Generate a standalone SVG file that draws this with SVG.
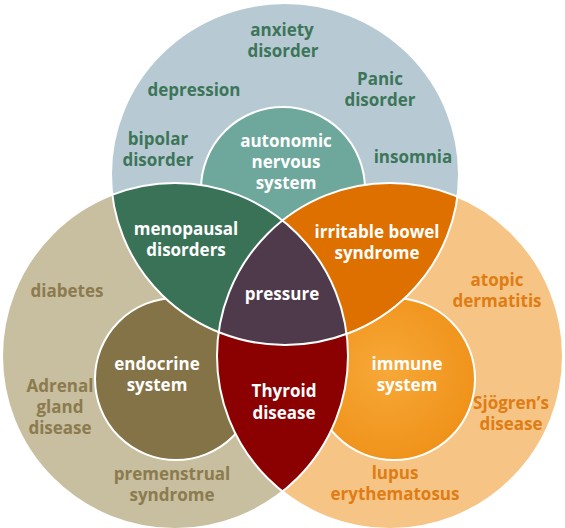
<svg xmlns="http://www.w3.org/2000/svg" width="565" height="528" viewBox="0 0 565 528">
<style>
text{font-family:"Open Sans","Noto Sans","Liberation Sans",sans-serif;font-weight:700;font-size:17px;text-anchor:middle}
.tg{fill:#3d7559}.tl{fill:#8b7b4e}.tr{fill:#e07c14}.tw{fill:#ffffff}
.edge{fill:none;stroke:#ffffff;stroke-width:2}
</style>
<defs>
<clipPath id="cT"><ellipse cx="285" cy="174" rx="174" ry="171"/></clipPath>
<clipPath id="cL"><circle cx="175" cy="356" r="173"/></clipPath>
<clipPath id="cR"><circle cx="390" cy="356" r="173"/></clipPath>
<radialGradient id="gI" cx="0.45" cy="0.45" r="0.6"><stop offset="0" stop-color="#f7a838"/><stop offset="1" stop-color="#ef9118"/></radialGradient>
</defs>
<g id="circle-mind">
<ellipse cx="285" cy="174" rx="174" ry="171" fill="#b7cad3"/>
</g>
<g id="circle-endocrine-outer">
<circle cx="175" cy="356" r="173" fill="#c8bea0"/>
</g>
<g id="circle-immune-outer">
<circle cx="390" cy="356" r="173" fill="#f6c585"/>
</g>
<g id="autonomic">
<circle cx="283" cy="189" r="82" fill="#6ea89c" stroke="#fff" stroke-width="2"/>
</g>
<g id="endocrine">
<circle cx="176" cy="379" r="81" fill="#837346" stroke="#fff" stroke-width="2"/>
</g>
<g id="immune">
<circle cx="394" cy="379" r="81" fill="url(#gI)" stroke="#fff" stroke-width="2"/>
</g>
<g id="menopausal">
<circle cx="175" cy="356" r="173" fill="#3a7258" clip-path="url(#cT)"/>
</g>
<g id="irritable">
<circle cx="390" cy="356" r="173" fill="#de7000" clip-path="url(#cT)"/>
</g>
<g id="thyroid">
<circle cx="390" cy="356" r="173" fill="#8b0000" clip-path="url(#cL)"/>
</g>
<g id="pressure">
<g clip-path="url(#cT)"><circle cx="390" cy="356" r="173" fill="#4e3a4a" clip-path="url(#cL)"/></g>
</g>
<g id="connectors">
<ellipse class="edge" cx="285" cy="174" rx="174" ry="171"/>
<circle class="edge" cx="175" cy="356" r="173"/>
<circle class="edge" cx="390" cy="356" r="173"/>
</g>
<g id="labels">
<text class="tg" x="282" y="36">anxiety</text>
<text class="tg" x="283" y="57">disorder</text>
<text class="tg" x="380" y="85">Panic</text>
<text class="tg" x="380" y="106">disorder</text>
<text class="tg" x="194" y="96">depression</text>
<text class="tg" x="158" y="145">bipolar</text>
<text class="tg" x="158" y="166">disorder</text>
<text class="tg" x="413" y="163">insomnia</text>
<text class="tw" x="286" y="147">autonomic</text>
<text class="tw" x="286" y="168">nervous</text>
<text class="tw" x="286" y="189">system</text>
<text class="tw" x="186" y="235">menopausal</text>
<text class="tw" x="186" y="256">disorders</text>
<text class="tw" x="377" y="238">irritable bowel</text>
<text class="tw" x="377" y="259">syndrome</text>
<text class="tw" x="282" y="300">pressure</text>
<text class="tl" x="67" y="297">diabetes</text>
<text class="tr" x="497" y="286">atopic</text>
<text class="tr" x="497" y="307">dermatitis</text>
<text class="tw" x="157" y="370">endocrine</text>
<text class="tw" x="157" y="391">system</text>
<text class="tw" x="407" y="370">immune</text>
<text class="tw" x="407" y="391">system</text>
<text class="tw" x="284" y="397">Thyroid</text>
<text class="tw" x="284" y="419">disease</text>
<text class="tl" x="60" y="392">Adrenal</text>
<text class="tl" x="60" y="413">gland</text>
<text class="tl" x="60" y="434">disease</text>
<text class="tr" x="511" y="409">Sjögren’s</text>
<text class="tr" x="511" y="430">disease</text>
<text class="tl" x="172" y="480">premenstrual</text>
<text class="tl" x="172" y="501">syndrome</text>
<text class="tr" x="395" y="479">lupus</text>
<text class="tr" x="395" y="500">erythematosus</text>
</g>
</svg>
